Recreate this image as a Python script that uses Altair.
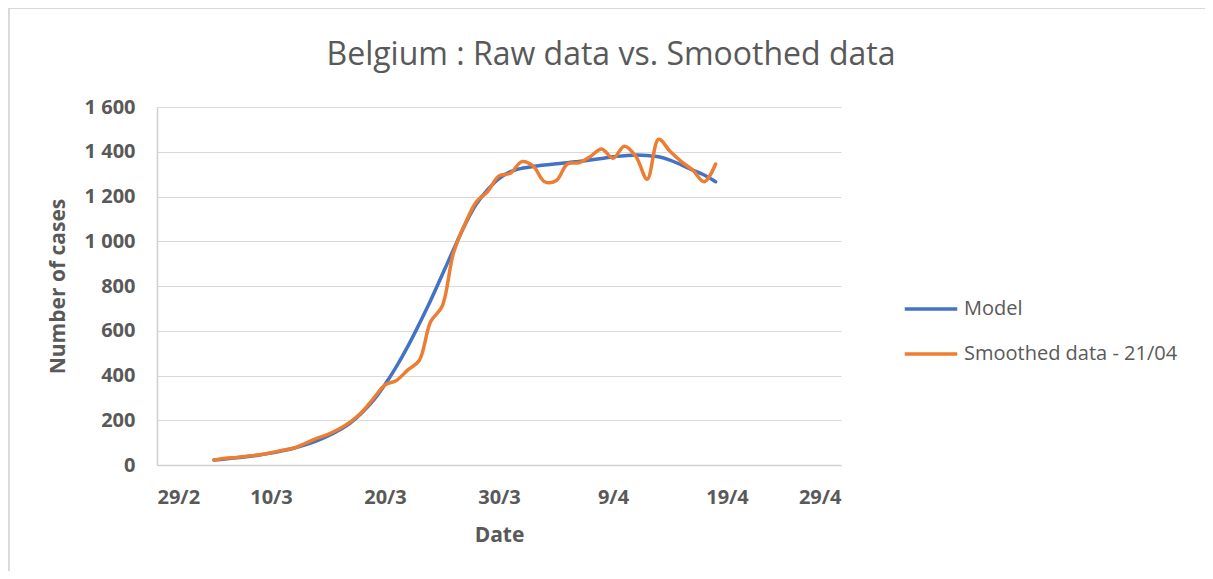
import altair as alt
import pandas as pd

# Daily dates (5 March 2020 to 18 April 2020)
dates = [d.strftime("%Y-%m-%dT00:00:00") for d in pd.date_range("2020-03-05", "2020-04-18", freq="D")]

model = [22, 27, 32, 38, 45, 53, 63, 75, 90, 108, 130, 157, 190, 235, 290, 360,
         440, 530, 630, 735, 848, 962, 1072, 1165, 1230, 1280, 1311, 1326, 1334,
         1341, 1346, 1351, 1357, 1363, 1370, 1378, 1382, 1385, 1383, 1378, 1363,
         1341, 1318, 1296, 1266]

smoothed = [22, 30, 34, 40, 46, 55, 66, 76, 97, 119, 137, 162, 194, 238, 298, 358,
            378, 425, 467, 640, 708, 946, 1075, 1175, 1222, 1292, 1304, 1356, 1336,
            1266, 1270, 1345, 1351, 1378, 1412, 1371, 1425, 1380, 1277, 1456, 1402,
            1356, 1318, 1266, 1345]

series_names = ["Model", "Smoothed data - 21/04"]
series_colors = ["#4472C4", "#ED7D31"]

y_ticks = [0, 200, 400, 600, 800, 1000, 1200, 1400, 1600]
x_ticks = [alt.DateTime(year=2020, month=m, date=d) for m, d in
           [(2, 29), (3, 10), (3, 20), (3, 30), (4, 9), (4, 19), (4, 29)]]

df = pd.DataFrame({
    "date": dates * 2,
    "value": model + smoothed,
    "series": [series_names[0]] * len(model) + [series_names[1]] * len(smoothed),
})

grey = "#595959"
font = "Open Sans"

lines = alt.Chart(df).mark_line(
    interpolate="catmull-rom", strokeWidth=3.5, strokeCap="round", strokeJoin="round"
).encode(
    x=alt.X("date:T",
            scale=alt.Scale(domain=[alt.DateTime(year=2020, month=2, date=29),
                                    alt.DateTime(year=2020, month=4, date=29)]),
            axis=alt.Axis(values=x_ticks, format="%-d/%-m", title="Date",
                          grid=False, ticks=False, labelPadding=22,
                          domainColor="#d0d0d0", domainWidth=1.5,
                          labelFontSize=20, labelFontWeight="bold", labelColor=grey,
                          labelFont=font, titleFont=font, titleFontSize=21,
                          titleFontWeight="bold", titleColor=grey,
                          titleY=70, titleBaseline="middle")),
    y=alt.Y("value:Q",
            scale=alt.Scale(domain=[0, 1600], nice=False),
            axis=alt.Axis(values=y_ticks, title="Number of cases",
                          labelExpr="replace(format(datum.value, ','), ',', ' ')",
                          grid=True, gridColor="#d9d9d9", gridWidth=1.2,
                          ticks=False, labelPadding=22,
                          domainColor="#d0d0d0", domainWidth=1.5,
                          labelFontSize=20, labelFontWeight="bold", labelColor=grey,
                          labelFont=font, titleFont=font, titleFontSize=21,
                          titleFontWeight="bold", titleColor=grey,
                          titleX=-99, titleBaseline="middle")),
    color=alt.Color("series:N",
                    scale=alt.Scale(domain=series_names, range=series_colors),
                    legend=alt.Legend(title=None, orient="none", legendX=757, legendY=185,
                                      symbolType="M-1.75,0H1.75", symbolSize=900,
                                      symbolStrokeWidth=3.5, labelOffset=16,
                                      labelFontSize=20, labelColor=grey, labelFont=font,
                                      labelLimit=0, rowPadding=18, padding=0)),
)

frame = alt.Chart(df).mark_rule(color="#d9d9d9", strokeWidth=1.5).encode(
    x=alt.value(-148), x2=alt.value(1056), y=alt.value(-99)
) + alt.Chart(df).mark_rule(color="#d9d9d9", strokeWidth=1.5).encode(
    x=alt.value(-148.5), y=alt.value(-99), y2=alt.value(470)
)

chart = alt.layer(frame, lines).properties(
    width=684, height=358,
    title=alt.TitleParams("Belgium : Raw data vs. Smoothed data", font=font,
                          fontSize=32, fontWeight="normal", color=grey,
                          anchor="middle", dx=112, offset=0, dy=90,
                          baseline="alphabetic"),
    autosize=alt.AutoSizeParams(type="none"),
    padding={"left": 149, "top": 99, "right": 364, "bottom": 106},
).configure_view(stroke=None)

chart.save("out.html", embed_options={"renderer": "svg", "actions": False})
